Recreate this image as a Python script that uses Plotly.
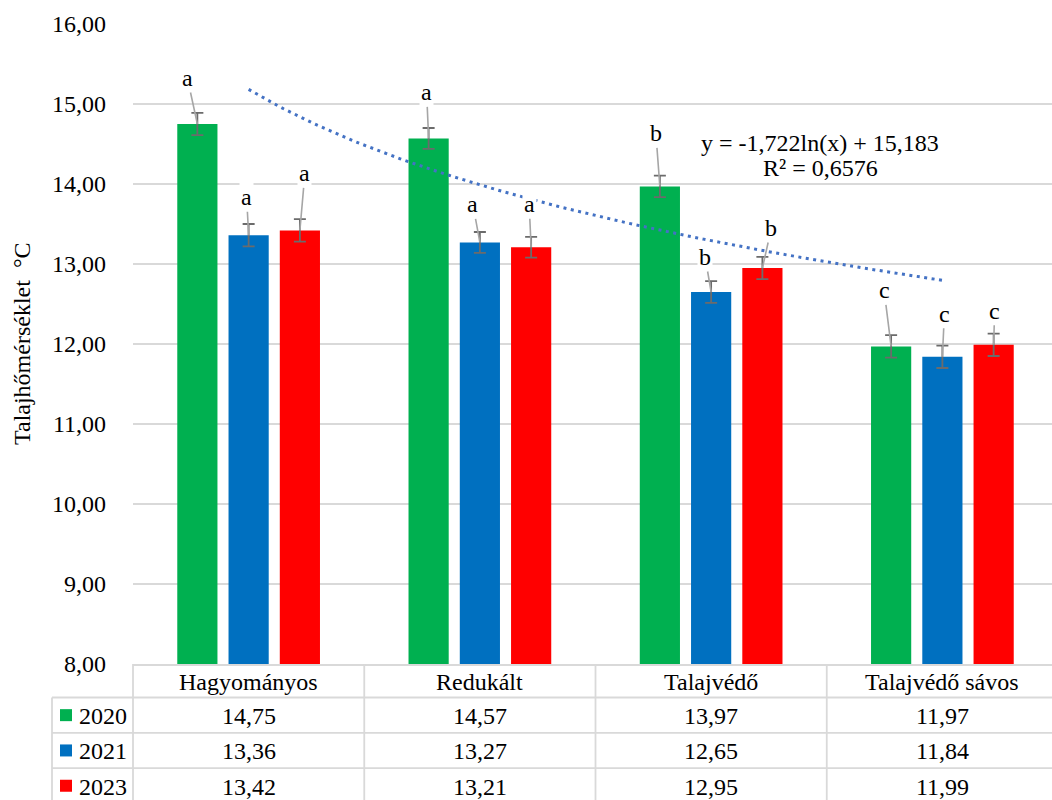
import numpy as np
import plotly.graph_objects as go

# --- data -------------------------------------------------------------
categories = ["Hagyományos", "Redukált", "Talajvédő", "Talajvédő sávos"]
years = ["2020", "2021", "2023"]
values_2020 = [14.75, 14.57, 13.97, 11.97]
values_2021 = [13.36, 13.27, 12.65, 11.84]
values_2023 = [13.42, 13.21, 12.95, 11.99]
errors_2020 = [0.14, 0.13, 0.135, 0.14]
errors_2021 = [0.14, 0.13, 0.135, 0.14]
errors_2023 = [0.14, 0.13, 0.14, 0.14]
letters_2020 = ["a", "a", "b", "c"]
letters_2021 = ["a", "a", "b", "c"]
letters_2023 = ["a", "a", "b", "c"]
# logarithmic trendline of the 2020 series: y = a*ln(x) + b
trend_a = -1.722
trend_b = 15.183
trend_r2 = 0.6576
y_ticks = [8, 9, 10, 11, 12, 13, 14, 15, 16]

series = [
    (years[0], values_2020, errors_2020, letters_2020, "#00B050"),
    (years[1], values_2021, errors_2021, letters_2021, "#0070C0"),
    (years[2], values_2023, errors_2023, letters_2023, "#FF0000"),
]

# --- layout constants ---------------------------------------------------
W, H = 1052, 800
ML, MR, MT, MB = 133, 0, 24, 136
FONT = "Liberation Serif"
FS = 24
GRID = "#d9d9d9"
BARGAP = 0.335
BARGROUPGAP = 0.216
X0, X1 = -0.5, 3.474
plot_w = W - ML - MR
plot_h = H - MT - MB


def px_to_paper_x(px):
    return (px - ML) / plot_w


def px_to_paper_y(py):
    return (H - MB - py) / plot_h


def data_to_paper_x(v):
    return (v - X0) / (X1 - X0)


def fmt(v, nd=2):
    return f"{v:.{nd}f}".replace(".", ",")


def text_font():
    return dict(family=FONT, size=FS, color="black")


xpos = list(range(len(categories)))
slot = (1 - BARGAP) / len(series)

fig = go.Figure()

for k, (name, vals, errs, _, color) in enumerate(series):
    fig.add_trace(go.Bar(
        x=xpos, y=vals, name=name,
        marker=dict(color=color, line=dict(width=0)),
        error_y=dict(type="data", array=errs, visible=True,
                     color="#6b6b6b", thickness=1.8, width=6),
        showlegend=False,
    ))

# trendline drawn across the category centres (x = 1..4)
tx = np.linspace(0, 3, 120)
ty = trend_a * np.log(tx + 1) + trend_b
fig.add_trace(go.Scatter(
    x=tx, y=ty, mode="lines",
    line=dict(color="#4472C4", width=3, dash="3px,4.5px"),
    showlegend=False, hoverinfo="skip",
))

annotations = []

# significance letters with leader lines
label_offsets = [
    [(-10, -46), (-2, -46), (-4, -53), (-7, -56)],
    [(-2, -38), (-7, -38), (-6, -35), (2, -43)],
    [(5, -57), (-2, -43), (9, -40), (1, -34)],
]
for k, (name, vals, errs, letters, color) in enumerate(series):
    for i, (v, lt) in enumerate(zip(vals, letters)):
        bx = i + (k - 1) * slot
        ax, ay = label_offsets[k][i]
        annotations.append(dict(
            x=bx, y=v, xref="x", yref="y", text=lt,
            showarrow=True, arrowhead=0, arrowwidth=1.6,
            arrowcolor="#a6a6a6", standoff=0, ax=ax, ay=ay,
            bgcolor="white", borderpad=1,
            font=text_font(),
        ))

# trendline equation
annotations.append(dict(
    x=px_to_paper_x(820), y=px_to_paper_y(143), xref="paper", yref="paper",
    xanchor="center", yanchor="middle",
    text=f"y = {fmt(trend_a, 3)}ln(x) + {fmt(trend_b, 3)}",
    showarrow=False, font=text_font(),
))
annotations.append(dict(
    x=px_to_paper_x(820), y=px_to_paper_y(168), xref="paper", yref="paper",
    xanchor="center", yanchor="middle",
    text=f"R² = {fmt(trend_r2, 4)}",
    showarrow=False, font=text_font(),
))

# y axis title
annotations.append(dict(
    x=px_to_paper_x(22), y=px_to_paper_y(344), xref="paper", yref="paper",
    xanchor="center", yanchor="middle",
    text="Talajhőmérséklet  °C", textangle=-90, showarrow=False,
    font=text_font(),
))

# --- data table below the plot -------------------------------------------
row_h = 35.3
table_top = H - MB
header_bottom = table_top + 33.5
row_edges = [header_bottom + r * row_h for r in range(4)]
col_edges = [data_to_paper_x(i - 0.5) for i in range(len(categories))]
left_col = px_to_paper_x(52)

shapes = []
line_style = dict(color=GRID, width=1.8)
for r in range(3):
    yp = px_to_paper_y(row_edges[r])
    shapes.append(dict(type="line", xref="paper", yref="paper",
                       x0=left_col, x1=1.01, y0=yp, y1=yp, line=line_style))
shapes.append(dict(type="line", xref="paper", yref="paper",
                   x0=left_col, x1=left_col,
                   y0=px_to_paper_y(header_bottom), y1=px_to_paper_y(H + 5),
                   line=line_style))
for xe in col_edges:
    shapes.append(dict(type="line", xref="paper", yref="paper",
                       x0=xe, x1=xe, y0=0, y1=px_to_paper_y(H + 5),
                       line=line_style))

for i, cat in enumerate(categories):
    annotations.append(dict(
        x=i, y=px_to_paper_y((table_top + header_bottom) / 2 + 1),
        xref="x", yref="paper", xanchor="center", yanchor="middle",
        text=cat, showarrow=False, font=text_font(),
    ))

for r, (name, vals, _, _, color) in enumerate(series):
    yc = row_edges[r] + row_h / 2
    yp = px_to_paper_y(yc + 1)
    shapes.append(dict(type="rect", xref="paper", yref="paper",
                       x0=px_to_paper_x(60), x1=px_to_paper_x(72),
                       y0=px_to_paper_y(yc - 6), y1=px_to_paper_y(yc + 6),
                       fillcolor=color, line=dict(width=0)))
    annotations.append(dict(
        x=px_to_paper_x(77), y=yp, xref="paper", yref="paper",
        xanchor="left", yanchor="middle",
        text=name, showarrow=False, font=text_font(),
    ))
    for i, v in enumerate(vals):
        annotations.append(dict(
            x=i, y=yp, xref="x", yref="paper",
            xanchor="center", yanchor="middle",
            text=fmt(v), showarrow=False, font=text_font(),
        ))

fig.update_layout(
    width=W, height=H,
    margin=dict(l=ML, r=MR, t=MT, b=MB, autoexpand=False),
    paper_bgcolor="white", plot_bgcolor="white",
    barmode="group", bargap=BARGAP, bargroupgap=BARGROUPGAP,
    separators=", ",
    font=text_font(),
    xaxis=dict(range=[X0, X1], showticklabels=False, showgrid=False,
               zeroline=False, showline=True, linecolor=GRID, linewidth=1.8,
               fixedrange=True),
    yaxis=dict(range=[8, 16], tickvals=y_ticks, tickformat=".2f",
               showgrid=True, gridcolor=GRID, gridwidth=1.8,
               zeroline=False, showline=False, ticks="",
               ticklabelstandoff=26,
               tickfont=text_font()),
    annotations=annotations,
    shapes=shapes,
)

fig.write_html("out.html")
